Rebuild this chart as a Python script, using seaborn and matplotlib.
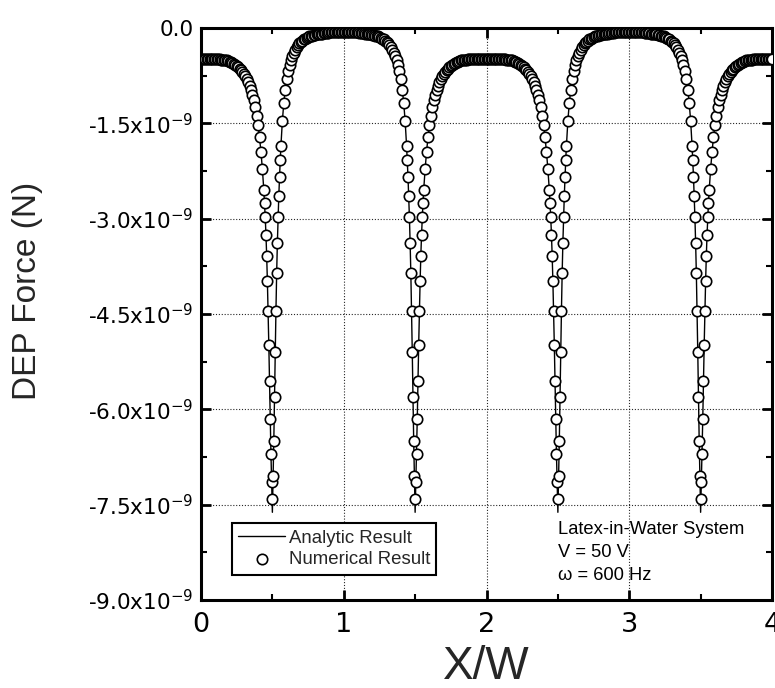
import numpy as np
import pandas as pd
import matplotlib
matplotlib.use("Agg")
import matplotlib.pyplot as plt
import seaborn as sns
from matplotlib.ticker import FixedLocator, MultipleLocator

# ---------------------------------------------------------------
# DEP force along the electrode array (force in units of 1e-9 N)
# ---------------------------------------------------------------
x_0_1 = [
    0.00, 0.01, 0.02, 0.03, 0.04, 0.05, 0.06, 0.07, 0.08, 0.09,
    0.10, 0.11, 0.12, 0.13, 0.14, 0.15, 0.16, 0.17, 0.18, 0.19,
    0.20, 0.21, 0.22, 0.23, 0.24, 0.25, 0.26, 0.27, 0.28, 0.29,
    0.30, 0.31, 0.32, 0.33, 0.34, 0.35, 0.36, 0.37, 0.38, 0.39,
    0.40, 0.41, 0.42, 0.43, 0.44,
    0.445, 0.45, 0.455, 0.46, 0.465, 0.47, 0.475, 0.48, 0.485, 0.49, 0.495, 0.50,
    0.505, 0.51, 0.515, 0.52, 0.525, 0.53, 0.535, 0.54, 0.545, 0.55, 0.555,
    0.56, 0.57, 0.58, 0.59, 0.60,
    0.61, 0.62, 0.63, 0.64, 0.65, 0.66, 0.67, 0.68, 0.69, 0.70,
    0.71, 0.72, 0.73, 0.74, 0.75, 0.76, 0.77, 0.78, 0.79, 0.80,
    0.81, 0.82, 0.83, 0.84, 0.85, 0.86, 0.87, 0.88, 0.89, 0.90,
    0.91, 0.92, 0.93, 0.94, 0.95, 0.96, 0.97, 0.98, 0.99, 1.00,
]
f_0_1 = [
    -0.48, -0.48, -0.48, -0.48, -0.48, -0.48, -0.48, -0.48, -0.48, -0.48,
    -0.48, -0.49, -0.49, -0.49, -0.50, -0.50, -0.50, -0.51, -0.51, -0.52,
    -0.53, -0.54, -0.55, -0.57, -0.58, -0.60, -0.61, -0.64, -0.66, -0.69,
    -0.72, -0.76, -0.80, -0.85, -0.91, -0.98, -1.05, -1.14, -1.25, -1.38,
    -1.53, -1.72, -1.95, -2.22, -2.55,
    -2.75, -2.98, -3.25, -3.58, -3.98, -4.45, -4.98, -5.55, -6.15, -6.70, -7.15, -7.41,
    -7.05, -6.50, -5.80, -5.10, -4.45, -3.86, -3.38, -2.98, -2.64, -2.34, -2.08,
    -1.85, -1.46, -1.18, -0.97, -0.80,
    -0.68, -0.58, -0.50, -0.44, -0.39, -0.34, -0.30, -0.27, -0.24, -0.22,
    -0.20, -0.18, -0.17, -0.15, -0.14, -0.13, -0.13, -0.12, -0.11, -0.11,
    -0.10, -0.10, -0.09, -0.09, -0.09, -0.08, -0.08, -0.08, -0.08, -0.07,
    -0.07, -0.07, -0.07, -0.07, -0.07, -0.07, -0.07, -0.07, -0.07, -0.07,
]

x_1_2 = [
    1.01, 1.02, 1.03, 1.04, 1.05, 1.06, 1.07, 1.08, 1.09,
    1.10, 1.11, 1.12, 1.13, 1.14, 1.15, 1.16, 1.17, 1.18, 1.19,
    1.20, 1.21, 1.22, 1.23, 1.24, 1.25, 1.26, 1.27, 1.28, 1.29,
    1.30, 1.31, 1.32, 1.33, 1.34, 1.35, 1.36, 1.37, 1.38, 1.39,
    1.40, 1.41, 1.42, 1.43, 1.44,
    1.445, 1.45, 1.455, 1.46, 1.465, 1.47, 1.475, 1.48, 1.485, 1.49, 1.495, 1.50,
    1.505, 1.51, 1.515, 1.52, 1.525, 1.53, 1.535, 1.54, 1.545, 1.55, 1.555,
    1.56, 1.57, 1.58, 1.59, 1.60,
    1.61, 1.62, 1.63, 1.64, 1.65, 1.66, 1.67, 1.68, 1.69, 1.70,
    1.71, 1.72, 1.73, 1.74, 1.75, 1.76, 1.77, 1.78, 1.79, 1.80,
    1.81, 1.82, 1.83, 1.84, 1.85, 1.86, 1.87, 1.88, 1.89, 1.90,
    1.91, 1.92, 1.93, 1.94, 1.95, 1.96, 1.97, 1.98, 1.99, 2.00,
]
f_1_2 = [
    -0.07, -0.07, -0.07, -0.07, -0.07, -0.07, -0.07, -0.07, -0.07,
    -0.07, -0.08, -0.08, -0.08, -0.08, -0.09, -0.09, -0.09, -0.10, -0.10,
    -0.11, -0.11, -0.12, -0.13, -0.13, -0.14, -0.15, -0.17, -0.18, -0.20,
    -0.22, -0.24, -0.27, -0.30, -0.34, -0.39, -0.44, -0.50, -0.58, -0.68,
    -0.80, -0.97, -1.18, -1.46, -1.85,
    -2.08, -2.34, -2.64, -2.98, -3.38, -3.86, -4.45, -5.10, -5.80, -6.50, -7.05, -7.41,
    -7.15, -6.70, -6.15, -5.55, -4.98, -4.45, -3.98, -3.58, -3.25, -2.98, -2.75,
    -2.55, -2.22, -1.95, -1.72, -1.53,
    -1.38, -1.25, -1.14, -1.05, -0.98, -0.91, -0.85, -0.80, -0.76, -0.72,
    -0.69, -0.66, -0.64, -0.61, -0.60, -0.58, -0.57, -0.55, -0.54, -0.53,
    -0.52, -0.51, -0.51, -0.50, -0.50, -0.50, -0.49, -0.49, -0.49, -0.48,
    -0.48, -0.48, -0.48, -0.48, -0.48, -0.48, -0.48, -0.48, -0.48, -0.48,
]

x_2_3 = [
    2.01, 2.02, 2.03, 2.04, 2.05, 2.06, 2.07, 2.08, 2.09,
    2.10, 2.11, 2.12, 2.13, 2.14, 2.15, 2.16, 2.17, 2.18, 2.19,
    2.20, 2.21, 2.22, 2.23, 2.24, 2.25, 2.26, 2.27, 2.28, 2.29,
    2.30, 2.31, 2.32, 2.33, 2.34, 2.35, 2.36, 2.37, 2.38, 2.39,
    2.40, 2.41, 2.42, 2.43, 2.44,
    2.445, 2.45, 2.455, 2.46, 2.465, 2.47, 2.475, 2.48, 2.485, 2.49, 2.495, 2.50,
    2.505, 2.51, 2.515, 2.52, 2.525, 2.53, 2.535, 2.54, 2.545, 2.55, 2.555,
    2.56, 2.57, 2.58, 2.59, 2.60,
    2.61, 2.62, 2.63, 2.64, 2.65, 2.66, 2.67, 2.68, 2.69, 2.70,
    2.71, 2.72, 2.73, 2.74, 2.75, 2.76, 2.77, 2.78, 2.79, 2.80,
    2.81, 2.82, 2.83, 2.84, 2.85, 2.86, 2.87, 2.88, 2.89, 2.90,
    2.91, 2.92, 2.93, 2.94, 2.95, 2.96, 2.97, 2.98, 2.99, 3.00,
]
f_2_3 = [
    -0.48, -0.48, -0.48, -0.48, -0.48, -0.48, -0.48, -0.48, -0.48,
    -0.48, -0.49, -0.49, -0.49, -0.50, -0.50, -0.50, -0.51, -0.51, -0.52,
    -0.53, -0.54, -0.55, -0.57, -0.58, -0.60, -0.61, -0.64, -0.66, -0.69,
    -0.72, -0.76, -0.80, -0.85, -0.91, -0.98, -1.05, -1.14, -1.25, -1.38,
    -1.53, -1.72, -1.95, -2.22, -2.55,
    -2.75, -2.98, -3.25, -3.58, -3.98, -4.45, -4.98, -5.55, -6.15, -6.70, -7.15, -7.41,
    -7.05, -6.50, -5.80, -5.10, -4.45, -3.86, -3.38, -2.98, -2.64, -2.34, -2.08,
    -1.85, -1.46, -1.18, -0.97, -0.80,
    -0.68, -0.58, -0.50, -0.44, -0.39, -0.34, -0.30, -0.27, -0.24, -0.22,
    -0.20, -0.18, -0.17, -0.15, -0.14, -0.13, -0.13, -0.12, -0.11, -0.11,
    -0.10, -0.10, -0.09, -0.09, -0.09, -0.08, -0.08, -0.08, -0.08, -0.07,
    -0.07, -0.07, -0.07, -0.07, -0.07, -0.07, -0.07, -0.07, -0.07, -0.07,
]

x_3_4 = [
    3.01, 3.02, 3.03, 3.04, 3.05, 3.06, 3.07, 3.08, 3.09,
    3.10, 3.11, 3.12, 3.13, 3.14, 3.15, 3.16, 3.17, 3.18, 3.19,
    3.20, 3.21, 3.22, 3.23, 3.24, 3.25, 3.26, 3.27, 3.28, 3.29,
    3.30, 3.31, 3.32, 3.33, 3.34, 3.35, 3.36, 3.37, 3.38, 3.39,
    3.40, 3.41, 3.42, 3.43, 3.44,
    3.445, 3.45, 3.455, 3.46, 3.465, 3.47, 3.475, 3.48, 3.485, 3.49, 3.495, 3.50,
    3.505, 3.51, 3.515, 3.52, 3.525, 3.53, 3.535, 3.54, 3.545, 3.55, 3.555,
    3.56, 3.57, 3.58, 3.59, 3.60,
    3.61, 3.62, 3.63, 3.64, 3.65, 3.66, 3.67, 3.68, 3.69, 3.70,
    3.71, 3.72, 3.73, 3.74, 3.75, 3.76, 3.77, 3.78, 3.79, 3.80,
    3.81, 3.82, 3.83, 3.84, 3.85, 3.86, 3.87, 3.88, 3.89, 3.90,
    3.91, 3.92, 3.93, 3.94, 3.95, 3.96, 3.97, 3.98, 3.99, 4.00,
]
f_3_4 = [
    -0.07, -0.07, -0.07, -0.07, -0.07, -0.07, -0.07, -0.07, -0.07,
    -0.07, -0.08, -0.08, -0.08, -0.08, -0.09, -0.09, -0.09, -0.10, -0.10,
    -0.11, -0.11, -0.12, -0.13, -0.13, -0.14, -0.15, -0.17, -0.18, -0.20,
    -0.22, -0.24, -0.27, -0.30, -0.34, -0.39, -0.44, -0.50, -0.58, -0.68,
    -0.80, -0.97, -1.18, -1.46, -1.85,
    -2.08, -2.34, -2.64, -2.98, -3.38, -3.86, -4.45, -5.10, -5.80, -6.50, -7.05, -7.41,
    -7.15, -6.70, -6.15, -5.55, -4.98, -4.45, -3.98, -3.58, -3.25, -2.98, -2.75,
    -2.55, -2.22, -1.95, -1.72, -1.53,
    -1.38, -1.25, -1.14, -1.05, -0.98, -0.91, -0.85, -0.80, -0.76, -0.72,
    -0.69, -0.66, -0.64, -0.61, -0.60, -0.58, -0.57, -0.55, -0.54, -0.53,
    -0.52, -0.51, -0.51, -0.50, -0.50, -0.50, -0.49, -0.49, -0.49, -0.48,
    -0.48, -0.48, -0.48, -0.48, -0.48, -0.48, -0.48, -0.48, -0.48, -0.48,
]

# the analytic curve reaches slightly deeper at the electrode edges
analytic_dip_x = [0.5, 1.5, 2.5, 3.5]
analytic_dip_force = [-7.62, -7.62, -7.62, -7.62]

x_ticks = [0, 1, 2, 3, 4]
y_ticks = [0.0, -1.5, -3.0, -4.5, -6.0, -7.5, -9.0]
y_tick_labels = ["0.0", "-1.5x10$^{-9}$", "-3.0x10$^{-9}$", "-4.5x10$^{-9}$",
                 "-6.0x10$^{-9}$", "-7.5x10$^{-9}$", "-9.0x10$^{-9}$"]

info_lines = ["Latex-in-Water System", "V = 50 V", "\u03c9 = 600 Hz"]

# ---------------------------------------------------------------
x_over_w = np.array(x_0_1 + x_1_2 + x_2_3 + x_3_4)
numerical = np.array(f_0_1 + f_1_2 + f_2_3 + f_3_4) * 1e-9
analytic = numerical.copy()
for xd, fd in zip(analytic_dip_x, analytic_dip_force):
    analytic[np.isclose(x_over_w, xd)] = fd * 1e-9

df = pd.DataFrame({"x": x_over_w, "analytic": analytic, "numerical": numerical})

sns.set_style("ticks")
plt.rcParams["font.family"] = ["Liberation Sans", "DejaVu Sans"]
plt.rcParams["mathtext.fontset"] = "dejavusans"

fig = plt.figure(figsize=(7.75, 6.88), dpi=100)
ax = fig.add_axes([201 / 775, 88 / 688, 571 / 775, 572 / 688])

sns.lineplot(data=df, x="x", y="analytic", ax=ax, color="black", linewidth=1.0,
             estimator=None, label="Analytic Result", zorder=2)
sns.scatterplot(data=df, x="x", y="numerical", ax=ax, marker="o", s=56,
                facecolor="white", edgecolor="black", linewidth=1.2,
                label="Numerical Result", zorder=3)

ax.set_xlim(0, 4)
ax.set_ylim(-9e-9, 0)
ax.xaxis.set_major_locator(FixedLocator(x_ticks))
ax.xaxis.set_minor_locator(MultipleLocator(0.5))
ax.yaxis.set_major_locator(FixedLocator([v * 1e-9 for v in y_ticks]))
ax.yaxis.set_minor_locator(MultipleLocator(0.75e-9))
ax.set_xticklabels([str(t) for t in x_ticks])
ax.set_yticklabels(y_tick_labels)

for lab in ax.get_xticklabels():
    lab.set_fontfamily("DejaVu Sans")
    lab.set_fontsize(19.5)
for lab in ax.get_yticklabels():
    lab.set_fontfamily("DejaVu Sans")
    lab.set_fontsize(15.5)

ax.tick_params(which="major", direction="in", length=7, width=2,
               top=True, right=True, colors="black")
ax.tick_params(which="minor", direction="in", length=4, width=1.5,
               top=True, right=True, colors="black")
ax.tick_params(axis="x", which="major", pad=8.5)
ax.tick_params(axis="y", which="major", pad=5.5)

for sp in ax.spines.values():
    sp.set_visible(True)
    sp.set_linewidth(2.2)
    sp.set_color("black")

ax.grid(True, which="major", linestyle=(0, (1, 1.6)), linewidth=0.8,
        color="black", alpha=0.85)
ax.set_axisbelow(True)

ax.set_xlabel("X/W", fontsize=33)
ax.set_ylabel("DEP Force (N)", fontsize=24)
ax.xaxis.set_label_coords(0.5, -0.078)
ax.yaxis.set_label_coords(-0.277, 0.54)

leg = ax.legend(loc="lower left", bbox_to_anchor=(0.054, 0.044), borderaxespad=0,
                frameon=True, fancybox=False, edgecolor="black", framealpha=1,
                fontsize=13.4, handlelength=2.5, handletextpad=0.2,
                labelspacing=0.25, borderpad=0.35)
leg.get_frame().set_linewidth(1.5)

for yy, line in zip([0.1224, 0.0822, 0.042], info_lines):
    ax.text(0.625, yy, line, transform=ax.transAxes, fontsize=13.2,
            va="center", ha="left", color="black")

fig.savefig("out.png", dpi=100, facecolor="white")
